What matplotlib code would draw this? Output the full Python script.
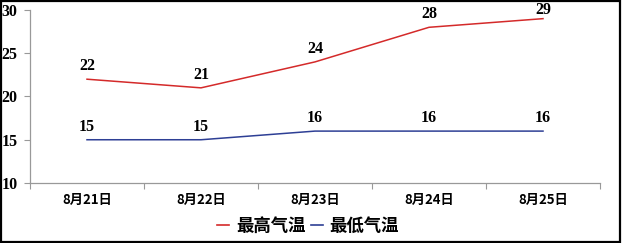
import matplotlib
matplotlib.use("Agg")
import matplotlib.pyplot as plt
from matplotlib.patches import Rectangle
from matplotlib.lines import Line2D

plt.rcParams['font.family'] = ['Liberation Serif', 'Noto Sans CJK SC']

dates = ["8月21日", "8月22日", "8月23日", "8月24日", "8月25日"]
high_temp = [22, 21, 24, 28, 29]
low_temp = [15, 15, 16, 16, 16]
y_ticks = [10, 15, 20, 25, 30]

fig = plt.figure(figsize=(6.23, 2.43), dpi=100)
ax = fig.add_axes([30/623, 1 - 183/243, 570/623, 173/243])

x = [i + 0.5 for i in range(len(dates))]
red = "#d42a2a"
blue = "#2e3f95"
ax.plot(x, high_temp, color=red, lw=1.1)
ax.plot(x, low_temp, color=blue, lw=1.1)

y_top = 30
for series in (high_temp, low_temp):
    for xi, v in zip(x, series):
        # labels near the top edge sit closer to their point so they stay inside the frame
        dy = 3.5 if v <= y_top - 2 else 0.5
        ax.annotate(str(v), (xi, v), xytext=(0, dy), textcoords="offset points",
                    ha="center", va="bottom", fontsize=11.5, fontweight="bold",
                    annotation_clip=False)

ax.set_xlim(0, len(dates))
ax.set_ylim(10, y_top)
ax.set_yticks(y_ticks)
ax.set_yticklabels([str(t) for t in y_ticks], fontsize=11.5, fontweight="bold")
ax.set_xticks(range(len(dates) + 1))
ax.set_xticklabels([])
ax.set_xticks(x, minor=True)
ax.set_xticklabels(dates, minor=True, fontsize=9.5, fontweight="bold",
                   family=["Noto Sans CJK SC"])
ax.tick_params(axis="x", which="minor", length=0, pad=7)
ax.tick_params(axis="x", which="major", length=4, color="#999999", direction="out")
ax.tick_params(axis="y", length=4, color="#999999", pad=5)

for s in ["top", "right"]:
    ax.spines[s].set_visible(False)
for s in ["left", "bottom"]:
    ax.spines[s].set_color("#999999")
    ax.spines[s].set_linewidth(0.9)

handles = [Line2D([], [], color=red, lw=1.2), Line2D([], [], color=blue, lw=1.2)]
fig.legend(handles, ["最高气温", "最低气温"], loc="center", bbox_to_anchor=(308/623, 1 - 226/243),
           ncol=2, frameon=False, handlelength=0.7, handletextpad=0.4, columnspacing=0.3,
           prop={"family": ["Noto Sans CJK SC"], "size": 12.5, "weight": "bold"})

fig.patches.append(Rectangle((0.002, 0.006), 0.993, 0.99, transform=fig.transFigure,
                             fill=False, edgecolor="black", lw=1.6))

fig.savefig("out.png", dpi=100)
